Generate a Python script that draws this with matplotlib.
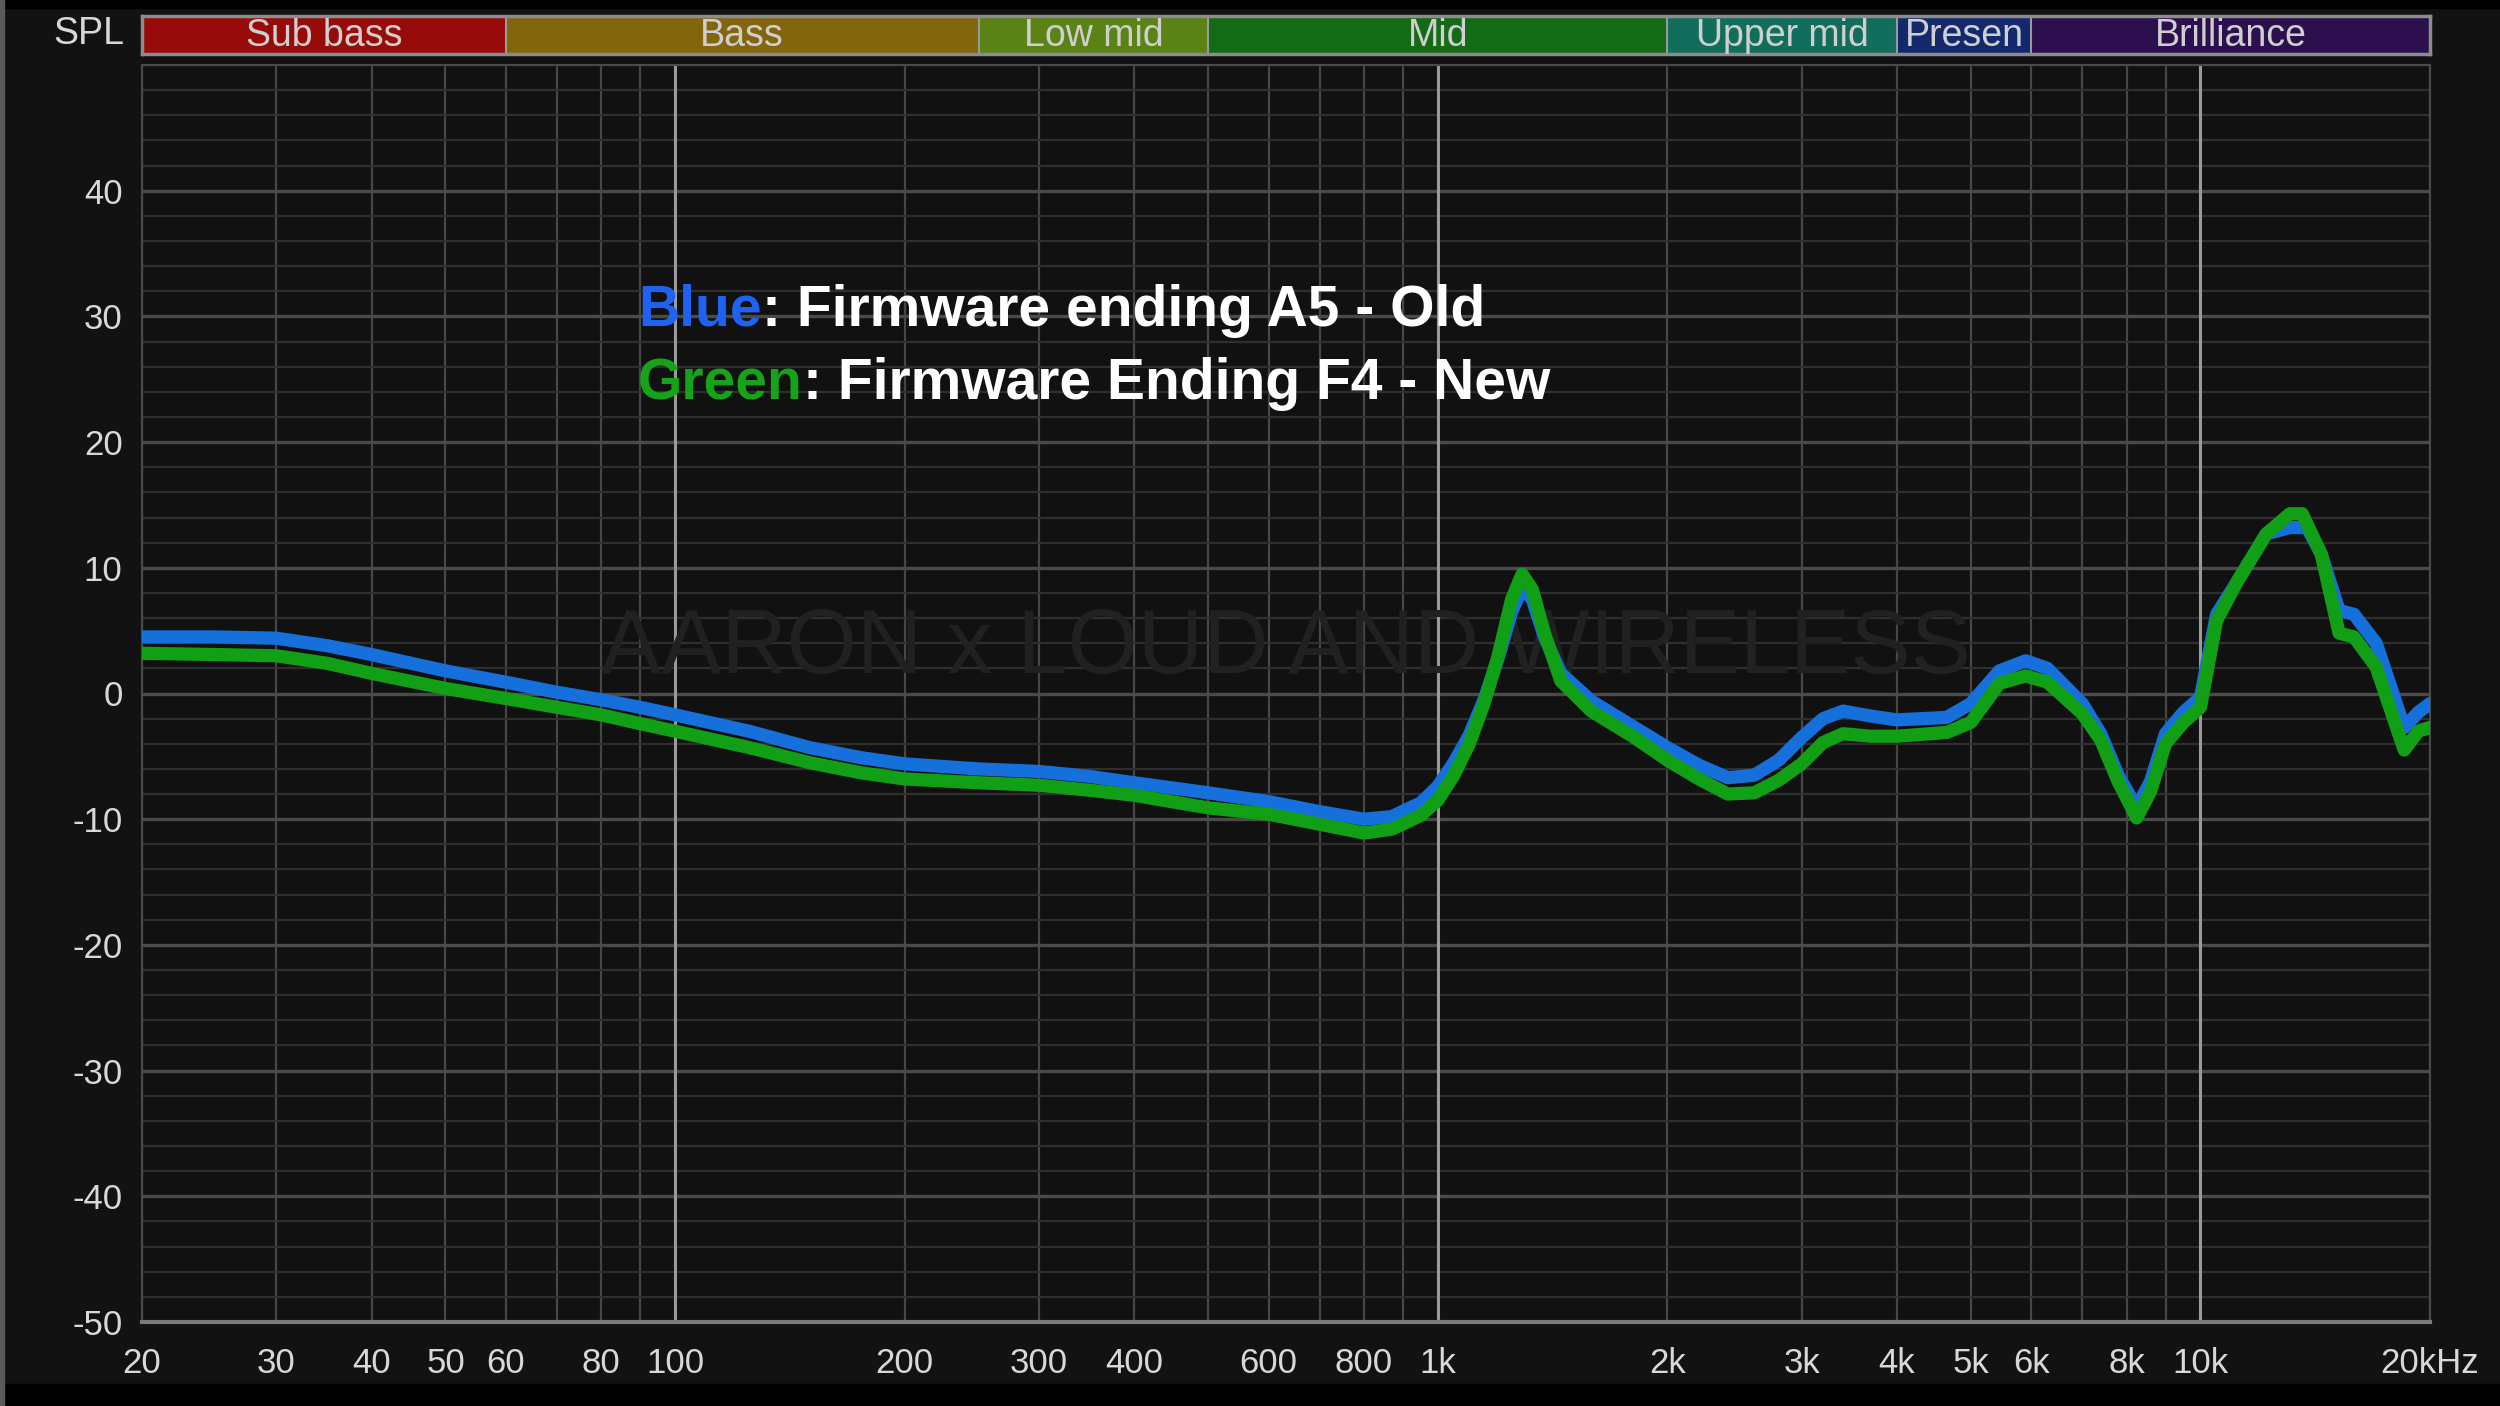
import numpy as np
import matplotlib
matplotlib.use('Agg')
import matplotlib.pyplot as plt
from matplotlib.patches import Rectangle
from matplotlib.ticker import FixedLocator, NullFormatter

plt.rcParams['font.family'] = ['Liberation Sans Narrow', 'Liberation Sans', 'DejaVu Sans']

# frequency response, old firmware (blue)
freq_old = [20, 25, 30, 35, 40, 50, 60, 70, 80, 90, 100, 125, 150, 175, 200, 250, 300, 350,
            400, 500, 600, 700, 800, 870, 950, 1000, 1050, 1100, 1150, 1200, 1250, 1290, 1330,
            1380, 1450, 1590, 1800, 2000, 2200, 2400, 2600, 2800, 3000, 3200, 3400, 3700, 4000,
            4650, 5000, 5450, 5900, 6300, 7000, 7400, 7800, 8250, 8600, 9000, 9500, 10000,
            10500, 11200, 12200, 13100, 13800, 14400, 15200, 15900, 17000, 18500, 19300, 20000]
spl_old = [4.5, 4.5, 4.4, 3.8, 3.1, 1.8, 0.9, 0.1, -0.5, -1.1, -1.7, -3.0, -4.3, -5.1, -5.6, -6.0,
           -6.2, -6.6, -7.1, -7.9, -8.6, -9.4, -10.0, -9.8, -8.7, -7.4, -5.5, -3.3, -0.5, 2.8,
           6.5, 8.4, 7.5, 4.5, 1.6, -0.6, -2.6, -4.3, -5.7, -6.7, -6.5, -5.3, -3.5, -2.0, -1.4,
           -1.8, -2.1, -1.9, -0.8, 1.8, 2.6, 2.0, -0.8, -3.2, -6.5, -9.1, -7.0, -3.2, -1.5, -0.3,
           6.3, 9.0, 12.7, 13.2, 13.2, 11.1, 6.6, 6.3, 4.0, -2.7, -1.5, -0.8]

# frequency response, new firmware (green)
freq_new = [20, 25, 30, 35, 40, 50, 60, 70, 80, 90, 100, 125, 150, 175, 200, 250, 300, 350,
            400, 500, 600, 700, 800, 870, 950, 1000, 1050, 1100, 1150, 1200, 1250, 1290, 1330,
            1380, 1450, 1590, 1800, 2000, 2200, 2400, 2600, 2800, 3000, 3200, 3400, 3700, 4000,
            4650, 5000, 5450, 5900, 6300, 7000, 7400, 7800, 8250, 8600, 9000, 9500, 10000,
            10500, 11200, 12200, 13100, 13600, 14400, 15200, 15900, 17000, 18500, 19300, 20000]
spl_new = [3.2, 3.1, 3.0, 2.4, 1.6, 0.4, -0.4, -1.1, -1.7, -2.4, -3.0, -4.3, -5.5, -6.3, -6.8,
           -7.1, -7.3, -7.7, -8.1, -9.1, -9.6, -10.4, -11.1, -10.8, -9.7, -8.5, -6.5, -4.0, -0.8,
           3.0, 7.5, 9.5, 8.3, 4.8, 1.0, -1.4, -3.4, -5.3, -6.8, -8.0, -7.9, -6.9, -5.6, -3.9,
           -3.2, -3.4, -3.4, -3.1, -2.3, 0.8, 1.4, 0.9, -1.6, -3.7, -7.0, -9.9, -7.8, -4.0, -2.3,
           -1.1, 5.8, 9.0, 12.7, 14.3, 14.3, 11.1, 4.8, 4.5, 2.1, -4.5, -3.0, -2.7]

# frequency bands shown on top
band_names = ['Sub bass', 'Bass', 'Low mid', 'Mid', 'Upper mid', 'Presen', 'Brilliance']
band_edges = [20, 60, 250, 500, 2000, 4000, 6000, 20000]
band_colors = ['#980b0b', '#82650c', '#5a8214', '#136b15', '#126e5c', '#14286e', '#2c0f4f']

xtick_vals = [20, 30, 40, 50, 60, 80, 100, 200, 300, 400, 600, 800, 1000, 2000, 3000,
              4000, 5000, 6000, 8000, 10000, 20000]
xtick_labels = ['20', '30', '40', '50', '60', '80', '100', '200', '300', '400', '600', '800',
                '1k', '2k', '3k', '4k', '5k', '6k', '8k', '10k', '20kHz']
ytick_vals = [40, 30, 20, 10, 0, -10, -20, -30, -40, -50]
ytick_labels = ['40', '30', '20', '10', '0', '-10', '-20', '-30', '-40', '-50']

W, H = 2500, 1406
fig = plt.figure(figsize=(W / 100, H / 100), dpi=100, facecolor='#121212')

# outer frame bits
fig.patches.append(Rectangle((0, 0), 1, 22 / H, transform=fig.transFigure, color='#000000', zorder=0))
fig.patches.append(Rectangle((0, 1 - 8 / H), 1, 8 / H, transform=fig.transFigure, color='#000000', zorder=0))
fig.patches.append(Rectangle((0, 0), 4 / W, 1, transform=fig.transFigure, color='#5a5a5a', zorder=0))

ax = fig.add_axes([142 / W, 84 / H, 2288 / W, 1257 / H])
ax.set_facecolor('#111111')
ax.set_xscale('log')
ax.set_xlim(20, 20000)
ax.set_ylim(-50, 50)

grid_freqs = [f * m for m in (10, 100, 1000) for f in range(2, 10)] + [10000, 20000]
ax.xaxis.set_minor_locator(FixedLocator(grid_freqs))
ax.xaxis.set_minor_formatter(NullFormatter())
ax.set_xticks(xtick_vals, xtick_labels)
ax.yaxis.set_minor_locator(FixedLocator(np.arange(-50, 51, 2)))
ax.set_yticks(ytick_vals, ytick_labels)
ax.grid(which='both', axis='x', color='#474747', lw=1.6)
ax.grid(which='minor', axis='y', color='#2f2f2f', lw=1.6)
ax.grid(which='major', axis='y', color='#4a4a4a', lw=2.4)
for f in (100, 1000, 10000):
    ax.axvline(f, color='#9a9a9a', lw=2.2, zorder=1)
ax.set_axisbelow(True)
ax.tick_params(which='both', length=0, colors='#d8d8d8', labelsize=25)
ax.tick_params(axis='x', pad=18)
ax.tick_params(axis='y', pad=14)
for s in ('top', 'left', 'right'):
    ax.spines[s].set_color('#4a4a4a')
    ax.spines[s].set_linewidth(1.5)
ax.spines['bottom'].set_color('#7a7a7a')
ax.spines['bottom'].set_linewidth(3)

ax.text(0.5, 0.535, 'AARON x LOUD AND WIRELESS', transform=ax.transAxes, ha='center',
        va='center', fontsize=65, color='#212121', zorder=2)

ax.plot(freq_old, spl_old, color='#1670dc', lw=9.5, solid_capstyle='round',
        solid_joinstyle='round', zorder=3)
ax.plot(freq_new, spl_new, color='#11a015', lw=9.5, solid_capstyle='round',
        solid_joinstyle='round', zorder=4)

# legend text
t1 = fig.text(638 / W, 1 - 311 / H, 'Blue', color='#1f62f2', fontsize=41,
              fontweight='bold', va='center', ha='left')
ax.annotate(': Firmware ending A5 - Old', xy=(1, 0), xycoords=t1, va='bottom',
            color='white', fontsize=41, fontweight='bold')
t2 = fig.text(638 / W, 1 - 384 / H, 'Green', color='#16a31a', fontsize=41,
              fontweight='bold', va='center', ha='left')
ax.annotate(': Firmware Ending F4 - New', xy=(1, 0), xycoords=t2, va='bottom',
            color='white', fontsize=41, fontweight='bold')

# band strip
bax = fig.add_axes([142 / W, 1 - 54 / H, 2288 / W, 38 / H])
bax.set_xscale('log')
bax.set_xlim(20, 20000)
bax.set_ylim(0, 1)
for i, name in enumerate(band_names):
    lo, hi = band_edges[i], band_edges[i + 1]
    bax.axvspan(lo, hi, color=band_colors[i], lw=0)
    if i > 0:
        bax.axvline(lo, color='#9a9a9a', lw=1.5)
    bax.text(np.sqrt(lo * hi), 0.47, name, ha='center', va='center', fontsize=27,
             color='#cfcfcf')
bax.set_xticks([])
bax.set_yticks([])
bax.minorticks_off()
for s in bax.spines.values():
    s.set_color('#8c8c8c')
    s.set_linewidth(2.5)

fig.text(124 / W, 1 - 34 / H, 'SPL', ha='right', va='center', fontsize=27, color='#d8d8d8')

fig.savefig('out.png', dpi=100, facecolor=fig.get_facecolor())
